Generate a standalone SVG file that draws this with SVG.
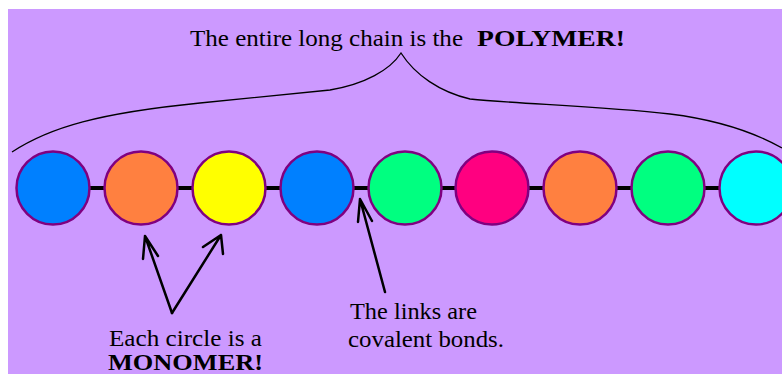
<svg xmlns="http://www.w3.org/2000/svg" width="782" height="374" viewBox="0 0 782 374">
<style>
.bg{fill:#CC99FF}
.m{stroke:#800080;stroke-width:2.5}
.bond{stroke:#000;stroke-width:4}
.thin{fill:none;stroke:#000;stroke-width:1.3}
.arr{fill:none;stroke:#000;stroke-width:2.5;stroke-linecap:round;stroke-linejoin:round}
text{font-family:"Liberation Serif","Times New Roman",serif;font-size:23px;fill:#000}
.b{font-weight:bold}
</style>
<rect width="782" height="374" fill="#fff"/>
<rect class="bg" x="8" y="9" width="774" height="365"/>
<g id="connectors">
<line class="bond" x1="53" y1="188" x2="756" y2="188"/>
<path class="thin" d="M12,152 C50,127 100,113 200,103 L330,90 C365,84 390,70 401,53 C415,75 440,92 470,99 C520,104 600,106 670,114 C710,119 750,130 782,148"/>
<path class="arr" d="M172,313 L145,236 M143,259 L145,236 L158,256"/>
<path class="arr" d="M172,313 L221,235 M203,247 L221,235 L223,254"/>
<path class="arr" d="M385,292 L360,199 M358,222 L360,199 L372,221"/>
</g>
<g id="m1"><circle class="m" cx="53" cy="188" r="36.5" fill="#0080FF"/></g>
<g id="m2"><circle class="m" cx="141" cy="188" r="36.5" fill="#FF8040"/></g>
<g id="m3"><circle class="m" cx="229" cy="188" r="36.5" fill="#FFFF00"/></g>
<g id="m4"><circle class="m" cx="317" cy="188" r="36.5" fill="#0080FF"/></g>
<g id="m5"><circle class="m" cx="405" cy="188" r="36.5" fill="#00FF80"/></g>
<g id="m6"><circle class="m" cx="492" cy="188" r="36.5" fill="#FF0080"/></g>
<g id="m7"><circle class="m" cx="580" cy="188" r="36.5" fill="#FF8040"/></g>
<g id="m8"><circle class="m" cx="668" cy="188" r="36.5" fill="#00FF80"/></g>
<g id="m9"><circle class="m" cx="756" cy="188" r="36.5" fill="#00FFFF"/></g>
<g id="title">
<text x="190" y="46" textLength="273" lengthAdjust="spacingAndGlyphs">The entire long chain is the</text>
<text class="b" x="477" y="46" textLength="148" lengthAdjust="spacingAndGlyphs">POLYMER!</text>
</g>
<g id="monomer-label">
<text x="109" y="346" textLength="153" lengthAdjust="spacingAndGlyphs">Each circle is a</text>
<text class="b" x="108" y="370" textLength="155" lengthAdjust="spacingAndGlyphs">MONOMER!</text>
</g>
<g id="bond-label">
<text x="350" y="319" textLength="127" lengthAdjust="spacingAndGlyphs">The links are</text>
<text x="348" y="347" textLength="156" lengthAdjust="spacingAndGlyphs">covalent bonds.</text>
</g>
</svg>
